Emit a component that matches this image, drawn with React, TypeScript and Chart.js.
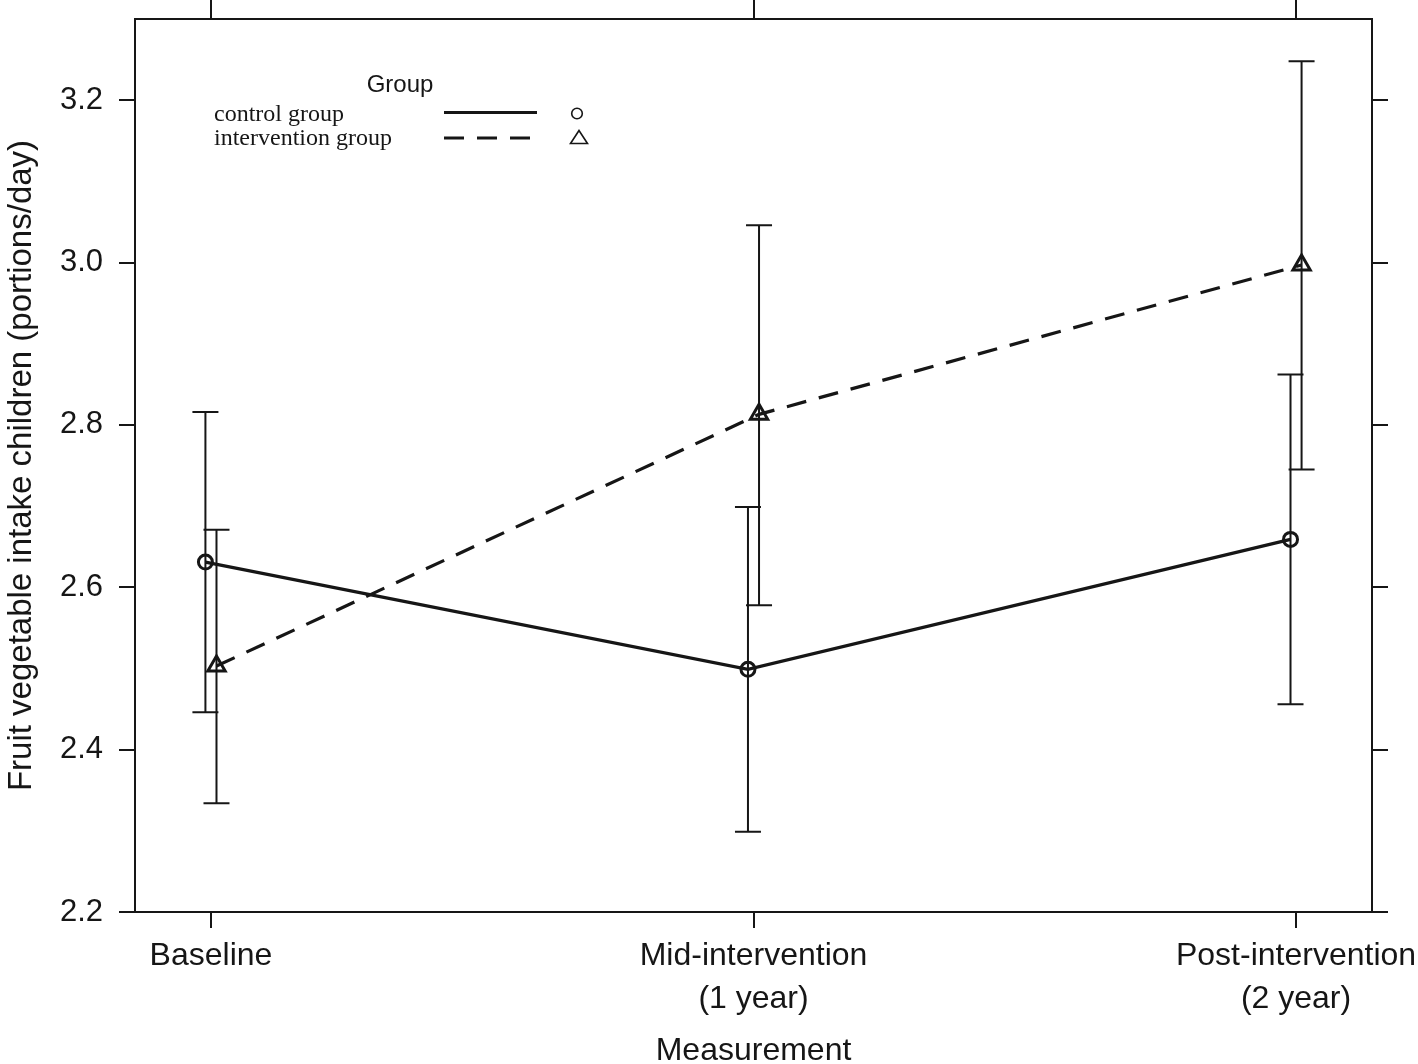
import React, { useEffect, useRef } from "react";
import { Chart, registerables } from "chart.js";

Chart.register(...registerables);

// ---- data ----
const CATEGORY_LABELS: string[][] = [
  ["Baseline"],
  ["Mid-intervention", "(1 year)"],
  ["Post-intervention", "(2 year)"],
];
const CATEGORY_POSITIONS = [0, 1, 2];
const GROUP_DODGE = [-0.0102, 0.0102];

const SERIES_NAMES = ["control group", "intervention group"];
const CONTROL_MEAN = [2.631, 2.499, 2.659];
const CONTROL_LOW = [2.446, 2.299, 2.456];
const CONTROL_HIGH = [2.816, 2.699, 2.862];
const INTERVENTION_MEAN = [2.503, 2.813, 2.997];
const INTERVENTION_LOW = [2.334, 2.578, 2.745];
const INTERVENTION_HIGH = [2.671, 3.046, 3.248];

const Y_TICKS = [2.2, 2.4, 2.6, 2.8, 3.0, 3.2];
const Y_MIN = 2.2;
const Y_MAX = 3.3;
const X_MIN = -0.14;
const X_MAX = 2.14;

const LEGEND_TITLE = "Group";
const X_TITLE = "Measurement";
const Y_TITLE = "Fruit vegetable intake children (portions/day)";

const INK = "#161616";
const SANS = '"Liberation Sans", Arial, Helvetica, sans-serif';
const SERIF = '"Liberation Serif", "Times New Roman", serif';

const LOWS = [CONTROL_LOW, INTERVENTION_LOW];
const HIGHS = [CONTROL_HIGH, INTERVENTION_HIGH];

const errorBarPlugin = {
  id: "errorBars",
  afterDatasetsDraw(chart: any) {
    const { ctx, scales } = chart;
    const xs = scales.x;
    const ys = scales.y;
    ctx.save();
    ctx.strokeStyle = INK;
    ctx.lineWidth = 2;
    chart.data.datasets.forEach((ds: any, di: number) => {
      ds.data.forEach((pt: any, i: number) => {
        const px = xs.getPixelForValue(pt.x);
        const lo = ys.getPixelForValue(LOWS[di][i]);
        const hi = ys.getPixelForValue(HIGHS[di][i]);
        const cap = 13;
        ctx.beginPath();
        ctx.moveTo(px, lo);
        ctx.lineTo(px, hi);
        ctx.moveTo(px - cap, lo);
        ctx.lineTo(px + cap, lo);
        ctx.moveTo(px - cap, hi);
        ctx.lineTo(px + cap, hi);
        ctx.stroke();
      });
    });
    ctx.restore();
  },
};

const framePlugin = {
  id: "frameExtras",
  afterDraw(chart: any) {
    const { ctx, chartArea } = chart;
    ctx.save();
    ctx.strokeStyle = INK;
    ctx.lineWidth = 2;
    // bottom axis line extends past the panel on both sides
    ctx.beginPath();
    ctx.moveTo(chartArea.left - 16, chartArea.bottom);
    ctx.lineTo(chartArea.right + 16, chartArea.bottom);
    ctx.stroke();
    ctx.restore();
  },
};

const legendPlugin = {
  id: "groupLegend",
  afterDraw(chart: any) {
    const { ctx } = chart;
    ctx.save();
    ctx.fillStyle = INK;
    ctx.font = `24px ${SANS}`;
    ctx.textAlign = "center";
    ctx.textBaseline = "alphabetic";
    ctx.fillText(LEGEND_TITLE, 400, 92);

    const rows = [
      { textY: 121, lineY: 112.5 },
      { textY: 145, lineY: 138 },
    ];
    chart.data.datasets.forEach((ds: any, di: number) => {
      const r = rows[di];
      ctx.font = `24px ${SERIF}`;
      ctx.textAlign = "left";
      ctx.fillStyle = INK;
      ctx.fillText(SERIES_NAMES[di], 214, r.textY);
      ctx.strokeStyle = INK;
      ctx.lineWidth = 3;
      ctx.setLineDash(ds.borderDash || []);
      ctx.beginPath();
      ctx.moveTo(444, r.lineY);
      ctx.lineTo(537, r.lineY);
      ctx.stroke();
      ctx.setLineDash([]);
      ctx.lineWidth = 1.6;
      ctx.beginPath();
      if (ds.pointStyle === "triangle") {
        const cx = 579;
        ctx.moveTo(cx, 130.5);
        ctx.lineTo(cx - 8.5, 143.5);
        ctx.lineTo(cx + 8.5, 143.5);
        ctx.closePath();
      } else {
        ctx.arc(577, 113.5, 5.3, 0, Math.PI * 2);
      }
      ctx.stroke();
    });
    ctx.restore();
  },
};

const noPadding = (s: any) => {
  s.paddingTop = 0;
  s.paddingBottom = 0;
  s.paddingLeft = 0;
  s.paddingRight = 0;
};

export default function App() {
  const canvasRef = useRef<HTMLCanvasElement | null>(null);

  useEffect(() => {
    if (!canvasRef.current) return;
    const mk = (means: number[], gi: number) =>
      means.map((m, i) => ({ x: CATEGORY_POSITIONS[i] + GROUP_DODGE[gi], y: m }));

    const xTicks = (s: any) => {
      s.ticks = CATEGORY_POSITIONS.map((v) => ({ value: v }));
    };
    const yTicks = (s: any) => {
      s.ticks = Y_TICKS.map((v) => ({ value: v }));
    };
    const grid = (len: number) => ({
      drawOnChartArea: false,
      drawTicks: true,
      tickLength: len,
      color: INK,
      lineWidth: 2,
    });
    const border = { display: true, color: INK, width: 2 };

    const chart = new Chart(canvasRef.current, {
      type: "line",
      data: {
        datasets: [
          {
            label: SERIES_NAMES[0],
            data: mk(CONTROL_MEAN, 0),
            borderColor: INK,
            borderWidth: 3.2,
            pointStyle: "circle",
            pointRadius: 7,
            pointBorderWidth: 3,
            pointBackgroundColor: "rgba(0,0,0,0)",
            pointBorderColor: INK,
            tension: 0,
          },
          {
            label: SERIES_NAMES[1],
            data: mk(INTERVENTION_MEAN, 1),
            borderColor: INK,
            borderWidth: 3.2,
            borderDash: [20, 13],
            pointStyle: "triangle",
            pointRadius: 10,
            pointBorderWidth: 3,
            pointBackgroundColor: "rgba(0,0,0,0)",
            pointBorderColor: INK,
            tension: 0,
          },
        ],
      },
      options: {
        animation: false,
        responsive: true,
        maintainAspectRatio: false,
        layout: { padding: 0 },
        plugins: { legend: { display: false }, tooltip: { enabled: false } },
        scales: {
          x: {
            type: "linear",
            position: "bottom",
            min: X_MIN,
            max: X_MAX,
            afterBuildTicks: xTicks,
            afterFit: (s: any) => {
              s.height = 152;
              noPadding(s);
            },
            ticks: {
              autoSkip: false,
              maxRotation: 0,
              minRotation: 0,
              padding: 7,
              color: INK,
              font: { family: SANS, size: 32, lineHeight: 1.33 },
              callback: (v: any) => {
                const idx = CATEGORY_POSITIONS.indexOf(Number(v));
                return idx >= 0 ? CATEGORY_LABELS[idx] : "";
              },
            },
            grid: grid(16),
            border,
            title: {
              display: true,
              text: X_TITLE,
              color: INK,
              padding: 0,
              font: { family: SANS, size: 32, lineHeight: 0.8 },
            },
          },
          xTop: {
            type: "linear",
            position: "top",
            min: X_MIN,
            max: X_MAX,
            afterBuildTicks: xTicks,
            afterFit: (s: any) => {
              s.height = 19;
              noPadding(s);
            },
            ticks: { display: false },
            grid: grid(19),
            border,
          },
          y: {
            type: "linear",
            position: "left",
            min: Y_MIN,
            max: Y_MAX,
            afterBuildTicks: yTicks,
            afterFit: (s: any) => {
              s.width = 135;
              noPadding(s);
            },
            ticks: {
              padding: 16,
              color: INK,
              font: { family: SANS, size: 31 },
              callback: (v: any) => Number(v).toFixed(1),
            },
            grid: grid(16),
            border,
            title: {
              display: true,
              text: Y_TITLE,
              color: INK,
              padding: { top: 2, bottom: 0 },
              font: { family: SANS, size: 33, lineHeight: 1.2 },
            },
          },
          yRight: {
            type: "linear",
            position: "right",
            min: Y_MIN,
            max: Y_MAX,
            afterBuildTicks: yTicks,
            afterFit: (s: any) => {
              s.width = 46;
              noPadding(s);
            },
            ticks: { display: false },
            grid: grid(16),
            border,
          },
        },
      },
      plugins: [errorBarPlugin, framePlugin, legendPlugin],
    } as any);

    return () => chart.destroy();
  }, []);

  return (
    <div
      style={{
        position: "absolute",
        left: 0,
        top: 0,
        width: 1418,
        height: 1064,
        background: "#ffffff",
      }}
    >
      <canvas ref={canvasRef} />
    </div>
  );
}
